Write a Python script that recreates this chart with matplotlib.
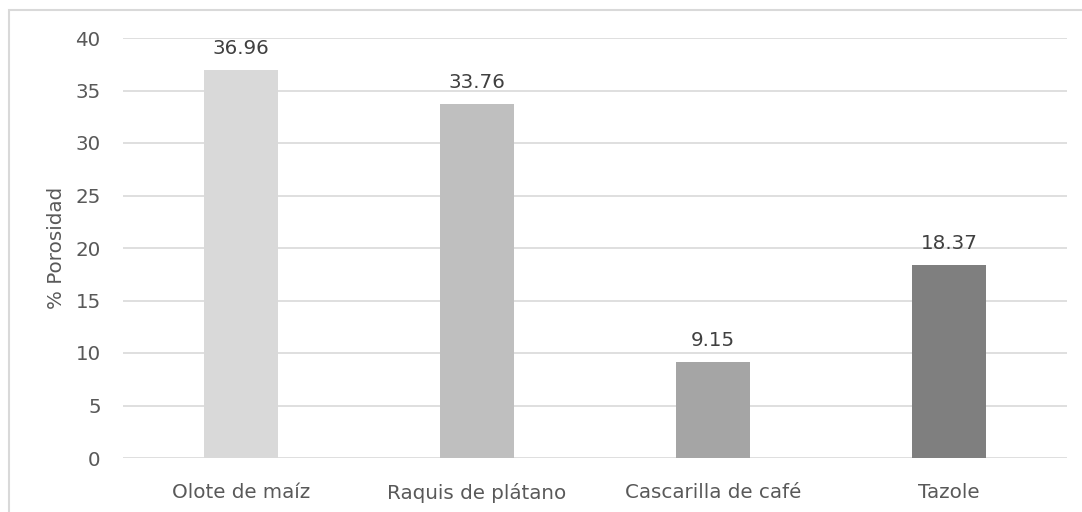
import matplotlib
matplotlib.use("Agg")
import matplotlib.pyplot as plt
from matplotlib.patches import Rectangle

plt.rcParams["font.family"] = ["DejaVu Sans"]

categories = ["Olote de maíz", "Raquis de plátano", "Cascarilla de café", "Tazole"]
porosity = [36.96, 33.76, 9.15, 18.37]
bar_colors = ["#d9d9d9", "#bfbfbf", "#a5a5a5", "#7f7f7f"]
yticks = [0, 5, 10, 15, 20, 25, 30, 35, 40]

W, H = 1082, 512
FS = 14.3
fig = plt.figure(figsize=(W / 100, H / 100), dpi=100)

# outer chart frame
fig.patches.append(Rectangle((9 / W, -0.05), 1.1, 1 - 10 / H + 0.05,
                             transform=fig.transFigure, fill=False,
                             edgecolor="#d9d9d9", linewidth=1.5))

ax = fig.add_axes([123 / W, 54 / H, (1067 - 123) / W, (458 - 38) / H])
x = range(len(categories))
bars = ax.bar(x, porosity, width=0.315, color=bar_colors, zorder=3)

ax.set_xlim(-0.5, len(categories) - 0.5)
ax.set_ylim(0, 40)
ax.set_yticks(yticks)
ax.set_xticks(list(x))
ax.set_xticklabels(categories, family="DejaVu Sans")
for lab in ax.get_yticklabels():
    lab.set_family("DejaVu Sans")
ax.grid(axis="y", color="#d9d9d9", linewidth=1.2, zorder=0)
for s in ax.spines.values():
    s.set_visible(False)
ax.tick_params(axis="both", length=0, colors="#595959", labelsize=FS)
ax.tick_params(axis="y", pad=16)
ax.tick_params(axis="x", pad=18)

for rect, v in zip(bars, porosity):
    ax.annotate(f"{v:.2f}", (rect.get_x() + rect.get_width() / 2, v),
                xytext=(0, 8.5), textcoords="offset points",
                ha="center", va="bottom", fontsize=FS, color="#404040",
                family="DejaVu Sans")

ax.set_ylabel("% Porosidad", fontsize=FS, color="#595959", labelpad=7,
              family="DejaVu Sans")

fig.savefig("out.png", dpi=100, facecolor="white")
